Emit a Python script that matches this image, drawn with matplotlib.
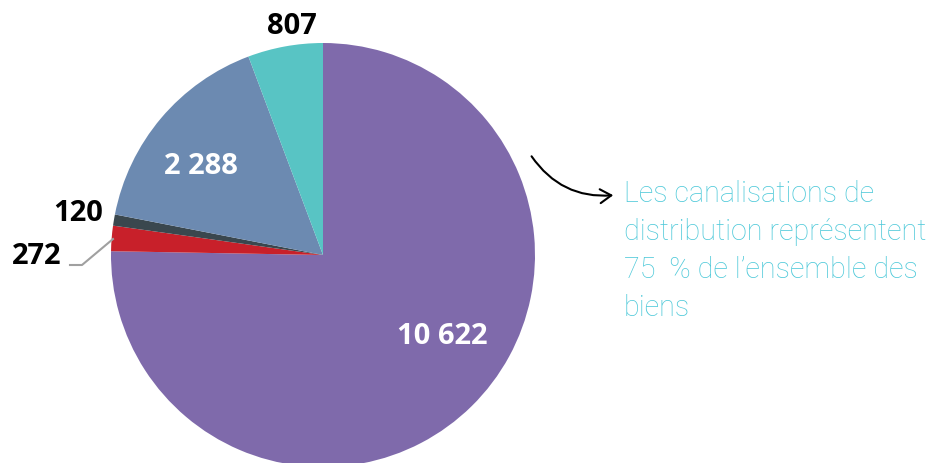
import matplotlib.pyplot as plt

valeurs = [10622, 272, 120, 2288, 807]
etiquettes = ["10 622", "272", "120", "2 288", "807"]
couleurs = ["#7f6aab", "#c8202a", "#3a474e", "#6c8ab1", "#58c4c4"]
texte_note = "Les canalisations de\ndistribution représentent\n75  % de l\u2019ensemble des\nbiens"

fig = plt.figure(figsize=(9.29, 4.64), dpi=100)
ax = fig.add_axes([0, 0, 1, 1])

# camembert, sens horaire depuis le haut
ax.pie(valeurs, colors=couleurs, startangle=90, counterclock=False,
       center=(323, 208), radius=212, frame=True,
       wedgeprops=dict(linewidth=0))
ax.set_xlim(0, 929)
ax.set_ylim(0, 464)
ax.set_aspect("equal")
ax.axis("off")

police = "Open Sans"
taille = 21
ax.text(442, 464 - 337, etiquettes[0], color="white", fontsize=taille, fontweight="bold",
        family=police, ha="center", va="center")
ax.text(201, 464 - 166, etiquettes[3], color="white", fontsize=taille, fontweight="bold",
        family=police, ha="center", va="center")
ax.text(292, 464 - 26, etiquettes[4], color="black", fontsize=taille, fontweight="bold",
        family=police, ha="center", va="center")
ax.text(78, 464 - 214, etiquettes[2], color="black", fontsize=taille, fontweight="bold",
        family=police, ha="center", va="center")
ax.text(37, 464 - 257, etiquettes[1], color="black", fontsize=taille, fontweight="bold",
        family=police, ha="center", va="center")

# ligne de rappel pour 272
ax.plot([70, 82, 113], [464 - 266, 464 - 266, 464 - 240], color="#a0a0a0", linewidth=1.5)

# flèche courbe
ax.annotate("", xy=(616, 464 - 196), xytext=(530, 464 - 155),
            arrowprops=dict(arrowstyle="->,head_length=0.8,head_width=0.5", color="black",
                            lw=1.5, connectionstyle="arc3,rad=0.3"))

ax.text(624, 464 - 180, texte_note, color="#4ec9d9", fontsize=20.7, family="Roboto",
        fontweight="light", ha="left", va="top", linespacing=1.45)

fig.savefig("out.png", dpi=100)
